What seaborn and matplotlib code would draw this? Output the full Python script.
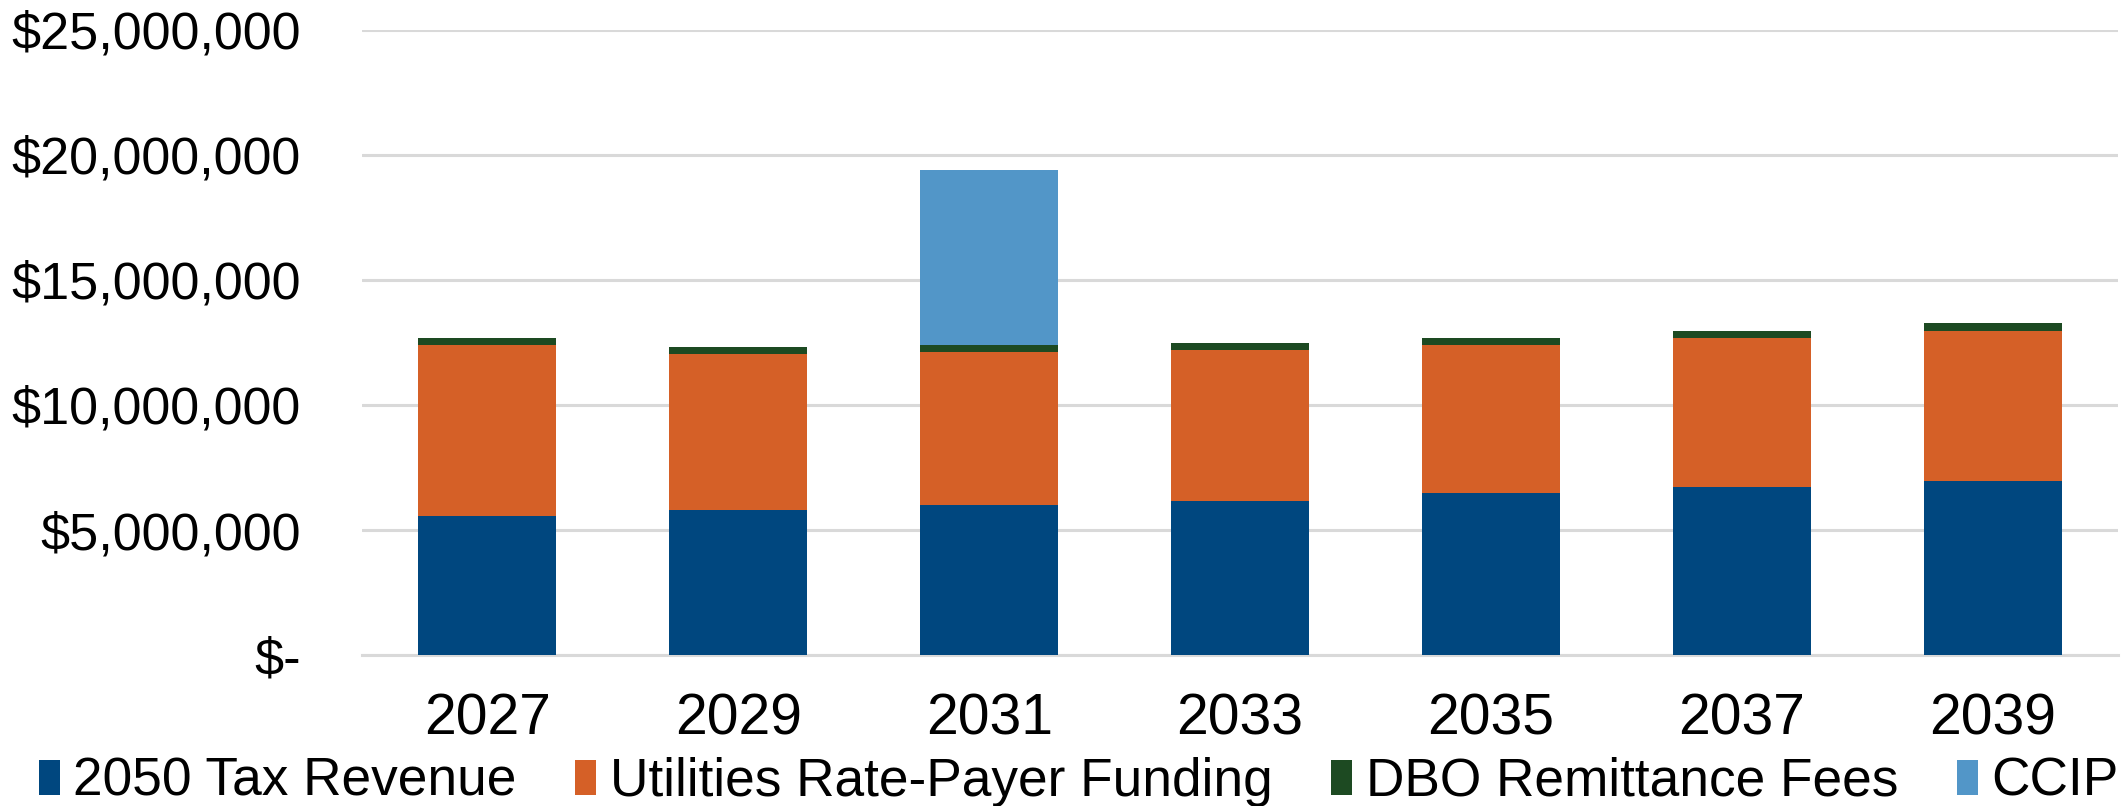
import matplotlib
matplotlib.use("Agg")
import matplotlib.pyplot as plt
import matplotlib.ticker as mticker
from matplotlib.patches import Patch
import numpy as np
import pandas as pd
import seaborn as sns

years = ["2027", "2029", "2031", "2033", "2035", "2037", "2039"]
tax_revenue = [5.57e6, 5.79e6, 6.00e6, 6.18e6, 6.47e6, 6.74e6, 6.97e6]
utilities = [6.81e6, 6.23e6, 6.10e6, 6.00e6, 5.92e6, 5.94e6, 5.99e6]
dbo_fees = [0.29e6, 0.29e6, 0.28e6, 0.29e6, 0.29e6, 0.28e6, 0.31e6]
ccip = [0, 0, 7.03e6, 0, 0, 0, 0]

series = ["2050 Tax Revenue", "Utilities Rate-Payer Funding", "DBO Remittance Fees", "CCIP"]
colors = ["#00477F", "#D56027", "#1D4A22", "#5296C8"]

sns.set_theme(style="white")
plt.rcParams["font.family"] = ["Liberation Sans", "DejaVu Sans"]
plt.rcParams["text.color"] = "black"
plt.rcParams["xtick.color"] = "black"
plt.rcParams["ytick.color"] = "black"

df = pd.DataFrame({"year": years, "tax": tax_revenue, "util": utilities,
                   "dbo": dbo_fees, "ccip": ccip})
# cumulative heights, drawn tallest first so each layer overlays the one above
df["c1"] = df["tax"]
df["c2"] = df["c1"] + df["util"]
df["c3"] = df["c2"] + df["dbo"]
df["c4"] = df["c3"] + df["ccip"]

fig = plt.figure(figsize=(21.21, 8.06), dpi=100)
ax = fig.add_axes([362 / 2121, 1 - 655 / 806, (2118 - 362) / 2121, (655 - 30) / 806])

for col, color in zip(["c4", "c3", "c2", "c1"], colors[::-1]):
    sns.barplot(data=df, x="year", y=col, color=color, width=0.55,
                linewidth=0, saturation=1, ax=ax, zorder=3)

ax.set_ylim(0, 25e6)
ax.set_xlim(-0.5, len(years) - 0.5)
ax.yaxis.set_major_locator(mticker.MultipleLocator(5e6))
ax.yaxis.set_major_formatter(mticker.FuncFormatter(
    lambda v, p: "$-" if v == 0 else f"${v:,.0f}"))
ax.grid(axis="y", color="#d9d9d9", linewidth=2.2, zorder=0)
ax.set_axisbelow(True)

for s in ["top", "right", "left"]:
    ax.spines[s].set_visible(False)
ax.spines["bottom"].set_color("#d9d9d9")
ax.spines["bottom"].set_linewidth(2.2)

ax.set_xticks(np.arange(-0.5, len(years), 1.0), minor=True)
ax.tick_params(axis="x", which="minor", length=10, width=2, color="#d9d9d9")
ax.tick_params(axis="x", which="major", length=0, pad=27, labelsize=41)
ax.tick_params(axis="y", length=0, pad=44, labelsize=37.5)
ax.set_xlabel("")
ax.set_ylabel("")

handles = [Patch(facecolor=c, edgecolor="none") for c in colors]
fig.legend(handles, series, loc="center", bbox_to_anchor=(0.5085, 1 - 782 / 806),
           ncol=4, frameon=False, fontsize=38.3, handlelength=0.4, handleheight=0.65,
           handletextpad=0.25, columnspacing=1.1, borderaxespad=0)

fig.savefig("out.png", dpi=100)
